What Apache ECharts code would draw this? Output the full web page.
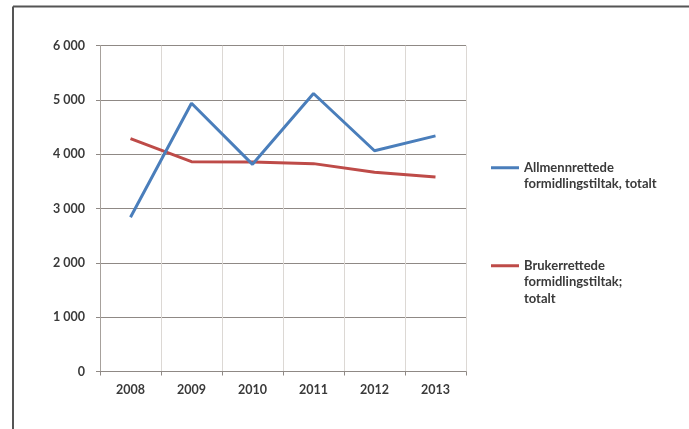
<!DOCTYPE html>
<html>
<head>
<meta charset="utf-8">
<script src="https://cdn.jsdelivr.net/npm/echarts@6/dist/echarts.min.js"></script>
<style>html,body{margin:0;padding:0;background:#fff}#c{width:689px;height:429px}</style>
</head>
<body>
<div id="c"></div>
<script>
const years = ['2008', '2009', '2010', '2011', '2012', '2013'];
const allmennrettede = [2840, 4940, 3815, 5120, 4065, 4340];
const brukerrettede = [4290, 3865, 3858, 3828, 3668, 3582];
const seriesNames = ['Allmennrettede formidlingstiltak, totalt', 'Brukerrettede formidlingstiltak; totalt'];
const legendLabels = {
  'Allmennrettede formidlingstiltak, totalt': '\nAllmennrettede\nformidlingstiltak, totalt',
  'Brukerrettede formidlingstiltak; totalt': '\n\nBrukerrettede\nformidlingstiltak;\ntotalt'
};

const font = 'Lato, "Open Sans", sans-serif';
const txt = {fontFamily: font, fontSize: 12.5, fontWeight: 'bold', color: '#3a3a3a'};
const chart = echarts.init(document.getElementById('c'), null, {renderer: 'canvas'});
chart.setOption({
  backgroundColor: '#ffffff',
  animation: false,
  grid: {left: 100, right: 223, top: 45.7, bottom: 57.5, containLabel: false},
  legend: {
    orient: 'vertical',
    left: 491,
    top: 143,
    padding: 0,
    itemGap: 32,
    itemWidth: 28,
    itemHeight: 3,
    icon: 'rect',
    data: seriesNames,
    formatter: n => legendLabels[n],
    textStyle: Object.assign({}, txt, {fontSize: 13, lineHeight: 16.5})
  },
  xAxis: {
    type: 'category',
    data: years,
    boundaryGap: true,
    axisLine: {lineStyle: {color: '#8f8985', width: 1.2}},
    axisTick: {show: true, length: 4, lineStyle: {color: '#8f8985'}},
    axisLabel: Object.assign({}, txt, {margin: 12}),
    splitLine: {show: true, lineStyle: {color: '#dcd8d4', width: 1}}
  },
  yAxis: {
    type: 'value',
    min: 0, max: 6000, interval: 1000,
    axisLine: {show: true, lineStyle: {color: '#a7a19c', width: 1}},
    axisTick: {show: true, length: 4, lineStyle: {color: '#8f8985'}},
    axisLabel: Object.assign({}, txt, {
      margin: 15,
      formatter: v => String(v).replace(/\B(?=(\d{3})+(?!\d))/g, ' ')
    }),
    splitLine: {show: true, lineStyle: {color: '#8f8985', width: 1.2}}
  },
  series: [
    {name: seriesNames[0], type: 'line', data: allmennrettede, showSymbol: false, symbol: 'none',
     lineStyle: {color: '#4a7ebb', width: 3}, itemStyle: {color: '#4a7ebb'}, z: 3},
    {name: seriesNames[1], type: 'line', data: brukerrettede, showSymbol: false, symbol: 'none',
     lineStyle: {color: '#be4b48', width: 3}, itemStyle: {color: '#be4b48'}, z: 2}
  ],
  graphic: [
    {type: 'line', shape: {x1: 13, y1: 6.5, x2: 689, y2: 6.5}, style: {stroke: '#555555', lineWidth: 2}, silent: true},
    {type: 'line', shape: {x1: 13, y1: 6.5, x2: 13, y2: 429}, style: {stroke: '#555555', lineWidth: 2}, silent: true}
  ]
});
</script>
</body>
</html>
